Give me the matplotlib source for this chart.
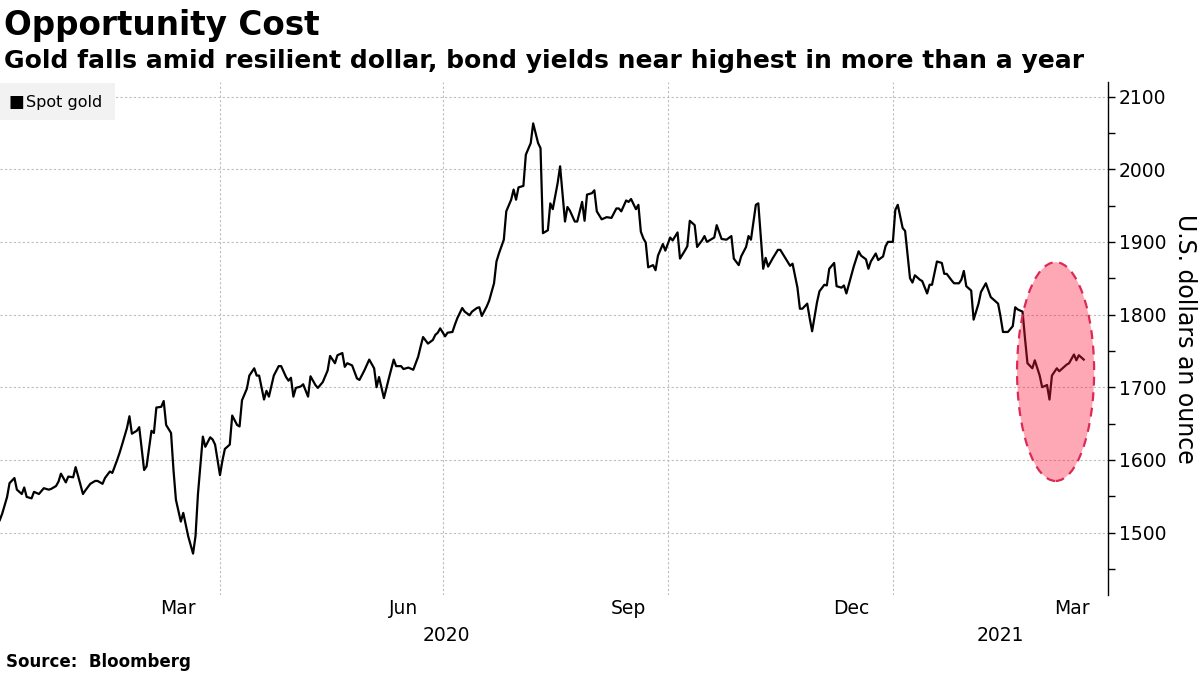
import numpy as np
import matplotlib
matplotlib.use("Agg")
from matplotlib import pyplot as plt
import matplotlib.dates as mdates
import matplotlib.transforms as mtransforms
from matplotlib.patches import Ellipse, Rectangle

# spot gold, days since 2020-01-01 and USD/oz
DAYS = [
    1, 2, 4, 5, 7, 8, 10, 11, 12, 14, 15, 17, 18, 19, 21, 22, 24, 25, 26, 28,
    29, 31, 32, 33, 35, 36, 38, 40, 41, 43, 44, 46, 47, 49, 50, 51, 53, 54, 55, 57,
    58, 60, 61, 63, 64, 65, 67, 68, 69, 71, 72, 73, 75, 76, 78, 80, 81, 82, 84, 85,
    87, 88, 89, 91, 92, 93, 95, 96, 98, 99, 100, 102, 103, 105, 106, 107, 109, 110, 111, 113,
    115, 116, 118, 119, 120, 121, 122, 124, 125, 127, 128, 130, 131, 133, 135, 136, 138, 139, 141, 142,
    143, 145, 147, 148, 150, 152, 154, 155, 156, 158, 160, 162, 163, 165, 166, 168, 170, 172, 173, 174,
    176, 178, 179, 180, 181, 183, 184, 186, 187, 188, 190, 191, 193, 194, 196, 197, 198, 200, 201, 203,
    204, 205, 207, 208, 210, 211, 212, 213, 215, 216, 218, 219, 221, 222, 223, 225, 226, 227, 229, 230,
    232, 233, 234, 236, 237, 239, 240, 241, 243, 244, 245, 247, 249, 251, 253, 254, 255, 257, 258, 259,
    261, 262, 263, 264, 265, 266, 268, 269, 270, 272, 273, 275, 276, 278, 279, 281, 282, 283, 285, 286,
    288, 289, 290, 292, 293, 294, 296, 298, 300, 301, 303, 304, 306, 307, 308, 310, 311, 313, 314, 315,
    317, 319, 320, 322, 324, 325, 327, 328, 329, 331, 332, 333, 335, 336, 338, 339, 340, 342, 343, 345,
    346, 347, 349, 350, 352, 353, 355, 356, 357, 359, 360, 362, 363, 364, 366, 367, 368, 370, 371, 373,
    374, 375, 377, 378, 380, 381, 382, 384, 386, 387, 388, 390, 391, 393, 394, 395, 396, 398, 399, 401,
    402, 404, 406, 407, 409, 410, 411, 413, 415, 416, 417, 419, 420, 421, 423, 424, 426, 427, 429, 430,
    431, 433, 434, 436, 437, 438, 440, 441, 442, 444,
]
GOLD = [
    1517, 1526, 1549, 1568, 1575, 1559, 1553, 1562, 1549, 1547, 1556, 1553, 1557, 1561, 1559, 1560, 1564, 1570, 1581, 1569,
    1577, 1576, 1590, 1578, 1553, 1558, 1567, 1571, 1571, 1567, 1575, 1584, 1582, 1600, 1610, 1621, 1644, 1660, 1636, 1640,
    1645, 1586, 1591, 1640, 1637, 1672, 1673, 1681, 1648, 1637, 1586, 1545, 1515, 1527, 1495, 1471, 1495, 1553, 1632, 1618,
    1631, 1628, 1621, 1579, 1599, 1615, 1621, 1661, 1648, 1646, 1682, 1698, 1716, 1726, 1716, 1716, 1683, 1695, 1687, 1716,
    1729, 1729, 1714, 1709, 1713, 1687, 1699, 1701, 1704, 1687, 1715, 1703, 1699, 1707, 1723, 1743, 1733, 1744, 1747, 1728,
    1733, 1730, 1712, 1710, 1723, 1738, 1726, 1700, 1714, 1685, 1712, 1738, 1729, 1729, 1725, 1727, 1724, 1742, 1756, 1769,
    1760, 1765, 1772, 1775, 1781, 1770, 1775, 1776, 1786, 1795, 1809, 1804, 1799, 1804, 1809, 1810, 1798, 1811, 1819, 1843,
    1873, 1884, 1903, 1942, 1958, 1972, 1958, 1975, 1977, 2020, 2036, 2063, 2036, 2029, 1912, 1916, 1953, 1945, 1981, 2004,
    1928, 1948, 1943, 1928, 1928, 1955, 1929, 1965, 1967, 1971, 1942, 1931, 1934, 1933, 1946, 1946, 1942, 1957, 1955, 1959,
    1945, 1951, 1914, 1905, 1899, 1865, 1868, 1861, 1881, 1897, 1888, 1906, 1902, 1913, 1877, 1888, 1894, 1929, 1923, 1893,
    1902, 1908, 1900, 1904, 1906, 1923, 1904, 1903, 1908, 1877, 1868, 1880, 1893, 1908, 1903, 1951, 1953, 1863, 1878, 1866,
    1878, 1889, 1889, 1878, 1867, 1870, 1837, 1808, 1808, 1815, 1795, 1777, 1817, 1832, 1841, 1840, 1863, 1871, 1839, 1837,
    1840, 1829, 1854, 1866, 1887, 1881, 1876, 1863, 1873, 1884, 1875, 1880, 1894, 1900, 1900, 1944, 1951, 1919, 1915, 1850,
    1844, 1854, 1848, 1846, 1829, 1841, 1841, 1873, 1871, 1856, 1856, 1847, 1843, 1843, 1848, 1860, 1839, 1833, 1793, 1815,
    1831, 1843, 1824, 1821, 1815, 1797, 1776, 1776, 1784, 1810, 1807, 1804, 1767, 1733, 1726, 1737, 1716, 1700, 1703, 1683,
    1716, 1726, 1722, 1728, 1731, 1733, 1745, 1737, 1744, 1738,
]

# highlighted region (days since 2020-01-01 / USD)
HIGHLIGHT_DAY = 432.5
HIGHLIGHT_WIDTH_DAYS = 31.5
HIGHLIGHT_PRICE = 1721.5
HIGHLIGHT_HEIGHT = 301

Y_TICKS = [1500, 1600, 1700, 1800, 1900, 2000, 2100]

start = np.datetime64("2020-01-01")
dates = start + np.array(DAYS).astype("timedelta64[D]")


def day_num(d):
    return mdates.date2num(start) + d


fig = plt.figure(figsize=(12, 6.75), dpi=100)
ax = fig.add_axes([0.0, 0.1185, 0.9233, 0.76])

ax.plot(dates, GOLD, color="black", lw=1.6, zorder=3)

ell = Ellipse((day_num(HIGHLIGHT_DAY), HIGHLIGHT_PRICE), HIGHLIGHT_WIDTH_DAYS, HIGHLIGHT_HEIGHT,
              facecolor=(1.0, 0.1, 0.24, 0.38), edgecolor="#dc2a55", lw=1.6,
              linestyle=(0, (4, 3)), zorder=4)
ax.add_patch(ell)

ax.set_xlim(day_num(1.1), day_num(453.9))
ax.set_ylim(1414, 2120)

# y axis on the right
for s in ["left", "top", "bottom"]:
    ax.spines[s].set_visible(False)
ax.spines["right"].set_linewidth(1.0)
ax.yaxis.tick_right()
ax.set_yticks(Y_TICKS)
ax.set_yticks(np.arange(1450, 2120, 100), minor=True)
ax.tick_params(axis="y", which="both", direction="out", length=5, width=1,
               labelsize=13.5, pad=3, right=True)
ax.yaxis.set_label_position("right")
ax.set_ylabel("U.S. dollars an ounce", rotation=270, fontsize=17, labelpad=22)

# x axis: grid at quarter starts, month names in mid-month
ax.xaxis.set_major_locator(mdates.MonthLocator(bymonth=[1, 4, 7, 10], bymonthday=1))
ax.xaxis.set_major_formatter(plt.NullFormatter())
ax.xaxis.set_minor_locator(mdates.MonthLocator(bymonth=[3, 6, 9, 12], bymonthday=15))
ax.xaxis.set_minor_formatter(mdates.DateFormatter("%b"))
ax.tick_params(axis="x", which="both", length=0, labelsize=13.5, pad=3)

ax.grid(True, which="major", axis="both", color="#bdbdbd", lw=0.8, linestyle=(0, (2, 2)))

trans = mtransforms.blended_transform_factory(ax.transData, ax.transAxes)
ax.text(day_num(183.5), -0.06, "2020", transform=trans, ha="center", va="top", fontsize=13.5)
ax.text(day_num(410), -0.06, "2021", transform=trans, ha="center", va="top", fontsize=13.5)

# legend box
fig.patches.append(Rectangle((0.0, 1 - 120 / 675), 115 / 1200, 37 / 675, transform=fig.transFigure,
                             facecolor="#f2f2f2", edgecolor="none", zorder=5))
fig.text(8 / 1200, 1 - 102 / 675, "\u25a0", fontsize=12, ha="left", va="center", zorder=6)
fig.text(26 / 1200, 1 - 102 / 675, "Spot gold", fontsize=11.5, ha="left", va="center", zorder=6)

fig.text(0.003, 0.962, "Opportunity Cost", fontsize=23.5, fontweight="bold", ha="left", va="center")
fig.text(0.003, 0.91, "Gold falls amid resilient dollar, bond yields near highest in more than a year",
         fontsize=18, fontweight="bold", ha="left", va="center")
fig.text(0.005, 0.019, "Source:  Bloomberg", fontsize=12, fontweight="bold", ha="left", va="center")

fig.savefig("out.png", dpi=100)
